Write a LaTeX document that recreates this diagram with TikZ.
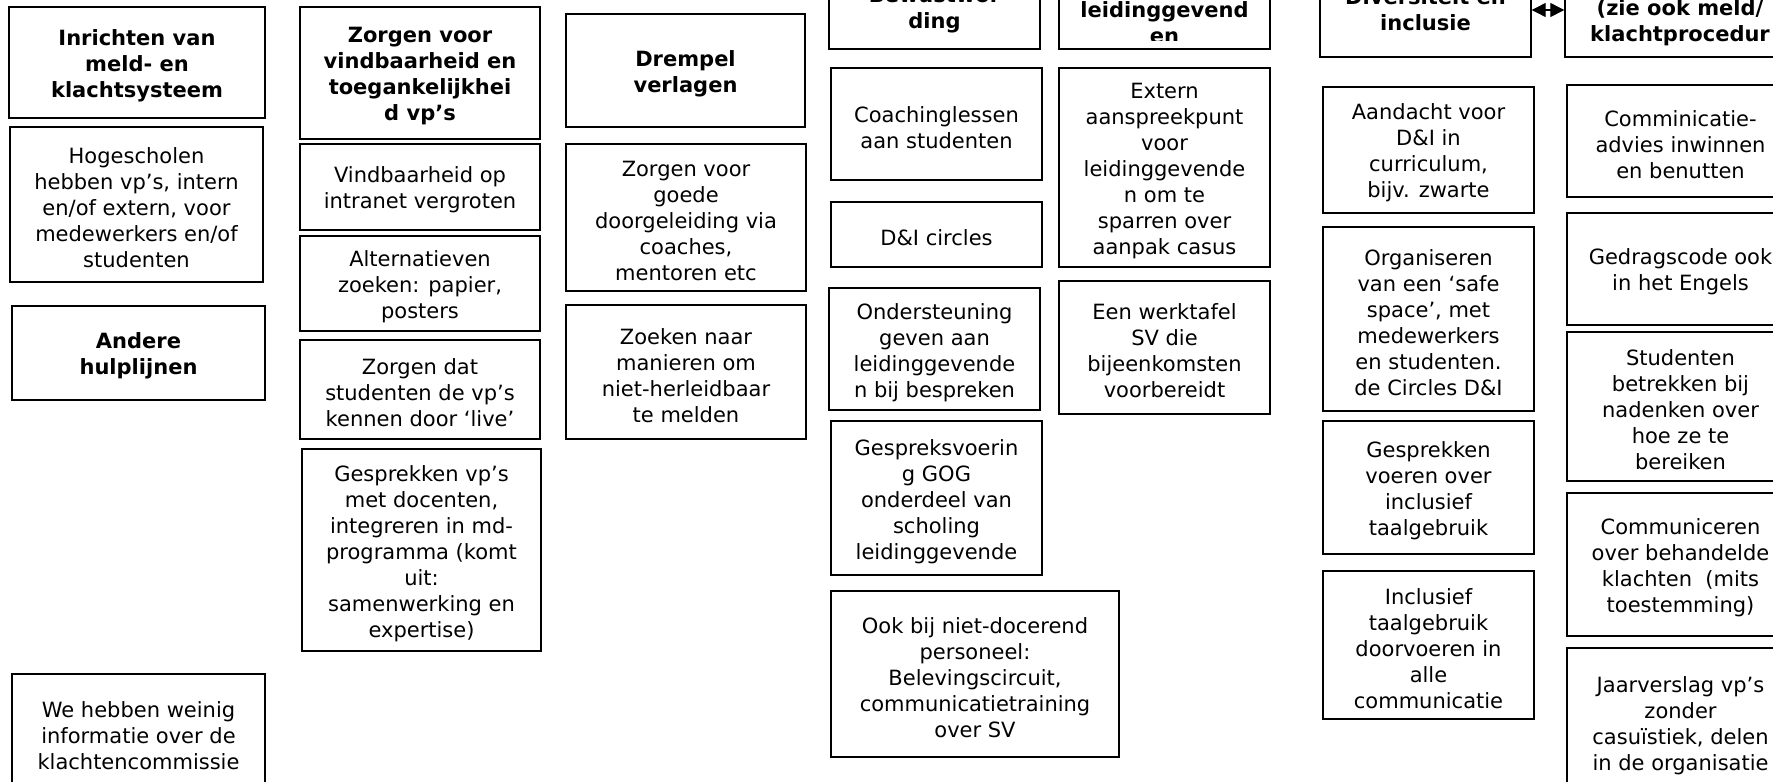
\documentclass[tikz,border=0pt]{standalone}
\usepackage{fontspec}
\setmainfont{DejaVu Sans}
\usetikzlibrary{arrows.meta}

\tikzset{
  frame/.style={draw=black, line width=0.7pt, inner sep=0pt},
  bodytext/.style={align=center, inner sep=0pt,
                   font=\fontsize{10.5}{13}\selectfont},
  headtext/.style={bodytext, font=\fontsize{10.5}{13}\selectfont\bfseries},
  hdtext/.style={inner sep=0pt, font=\fontsize{10.5}{13}\selectfont\bfseries},
  dblarrow/.style={line width=0.6pt,
    {Triangle[length=7pt,width=7pt]}-{Triangle[length=7pt,width=7pt]}},
}

% \mybox[text style]{name}{x1}{y1}{x2}{y2}{text}; coordinates in pixels, y downwards
\newcommand\mybox[7][bodytext]{%
  \node[frame, minimum width={(#5-#3)*0.5pt}, minimum height={(#6-#4)*0.5pt}]
    (#2) at ({(#3+#5)/2},{(#4+#6)/2}) {};
  \node[#1] (#2t) at ([yshift=-1.6pt]#2.center) {#7};}

% \myframe{name}{x1}{y1}{x2}{y2}: a box whose text is set line by line
\newcommand\myframe[5]{%
  \node[frame, minimum width={(#4-#2)*0.5pt}, minimum height={(#5-#3)*0.5pt}]
    (#1) at ({(#2+#4)/2},{(#3+#5)/2}) {};}

\begin{document}
\begin{tikzpicture}[x=0.5pt, y=-0.5pt]
\useasboundingbox (0,0) rectangle (1773,782);
\fill[white] (0,0) rectangle (1773,782);
\clip (0,0) rectangle (1773,782);

% column 1: meld- en klachtsysteem
\mybox[headtext]{c1a}{9}{7}{265}{118}{Inrichten van\\meld- en\\klachtsysteem}
\mybox{c1b}{10}{127}{263}{282}{Hogescholen\\hebben vp’s, intern\\en/of extern, voor\\medewerkers en/of\\studenten}
\mybox[headtext]{c1c}{12}{306}{265}{400}{Andere\\hulplijnen}
\mybox{c1d}{12}{674}{265}{790}{We hebben weinig\\informatie over de\\klachtencommissie}

% column 2: vindbaarheid
\mybox[headtext]{c2a}{300}{7}{540}{139}{Zorgen voor\\vindbaarheid en\\toegankelijkhei\\d vp’s}
\mybox{c2b}{300}{144}{540}{230}{Vindbaarheid op\\intranet vergroten}
\mybox{c2c}{300}{236}{540}{331}{Alternatieven\\zoeken: papier,\\posters}
\mybox{c2d}{300}{340}{540}{439}{Zorgen dat\\studenten de vp’s\\kennen door ‘live’}
\mybox{c2e}{302}{449}{541}{651}{Gesprekken vp’s\\met docenten,\\integreren in md-\\programma (komt\\uit:\\samenwerking en\\expertise)}

% column 3: drempel
\mybox[headtext]{c3a}{566}{14}{805}{127}{Drempel\\verlagen}
\mybox{c3b}{566}{144}{806}{291}{Zorgen voor\\goede\\doorgeleiding via\\coaches,\\mentoren etc}
\mybox{c3c}{566}{305}{806}{439}{Zoeken naar\\manieren om\\niet-herleidbaar\\te melden}

% column 4: bewustwording
\myframe{c4h}{829}{-40}{1040}{49}
\node[hdtext, anchor=base] (c4t1) at (934.5,2) {Bewustwor};
\node[hdtext, anchor=base] (c4t2) at (934.5,28) {ding};
\mybox{c4a}{831}{68}{1042}{180}{Coachinglessen\\aan studenten}
\mybox{c4b}{831}{202}{1042}{267}{D\&I circles}
\mybox{c4c}{829}{288}{1040}{410}{Ondersteuning\\geven aan\\leidinggevende\\n bij bespreken}
\mybox{c4d}{831}{421}{1042}{575}{Gespreksvoerin\\g GOG\\onderdeel van\\scholing\\leidinggevende}
\mybox{c4e}{831}{591}{1119}{757}{Ook bij niet-docerend\\personeel:\\Belevingscircuit,\\communicatietraining\\over SV}

% column 5: leidinggevenden
\myframe{c5h}{1059}{-60}{1270}{49}
\node[hdtext, anchor=base] (c5t1) at (1164.5,17) {leidinggevend};
\begin{scope}
  \clip (1059,0) rectangle (1270,40);
  \node[hdtext, anchor=base] (c5t2) at (1164.5,43) {en};
\end{scope}
\mybox{c5a}{1059}{68}{1270}{267}{Extern\\aanspreekpunt\\voor\\leidinggevende\\n om te\\sparren over\\aanpak casus}
\mybox{c5b}{1059}{281}{1270}{414}{Een werktafel\\SV die\\bijeenkomsten\\voorbereidt}

% column 6: diversiteit en inclusie
\myframe{c6h}{1320}{-37}{1531}{57}
\node[hdtext, anchor=base] (c6t1) at (1425.5,4) {Diversiteit en};
\node[hdtext, anchor=base] (c6t2) at (1425.5,30) {inclusie};
\mybox{c6a}{1323}{87}{1534}{213}{Aandacht voor\\D\&I in\\curriculum,\\bijv. zwarte}
\mybox{c6b}{1323}{227}{1534}{411}{Organiseren\\van een ‘safe\\space’, met\\medewerkers\\en studenten.\\de Circles D\&I}
\mybox{c6c}{1323}{421}{1534}{554}{Gesprekken\\voeren over\\inclusief\\taalgebruik}
\mybox{c6d}{1323}{571}{1534}{719}{Inclusief\\taalgebruik\\doorvoeren in\\alle\\communicatie}

% column 7: communicatie
\myframe{c7h}{1565}{-37}{1794}{57}
\node[hdtext, anchor=base] (c7t1) at (1680,15) {(zie ook meld/};
\node[hdtext, anchor=base] (c7t2) at (1680,41) {klachtprocedur};
\mybox{c7a}{1567}{85}{1794}{197}{Comminicatie-\\advies inwinnen\\en benutten}
\mybox{c7b}{1567}{213}{1794}{325}{Gedragscode ook\\in het Engels}
\mybox{c7c}{1567}{332}{1794}{481}{Studenten\\betrekken bij\\nadenken over\\hoe ze te\\bereiken}
\mybox{c7d}{1567}{493}{1794}{636}{Communiceren\\over behandelde\\klachten\ \ (mits\\toestemming)}
\mybox{c7e}{1567}{648}{1794}{796}{Jaarverslag vp’s\\zonder\\casuïstiek, delen\\in de organisatie}

% link between the two right-hand headers
\draw[dblarrow] (c6h.east) -- (c7h.west);
\end{tikzpicture}
\end{document}
